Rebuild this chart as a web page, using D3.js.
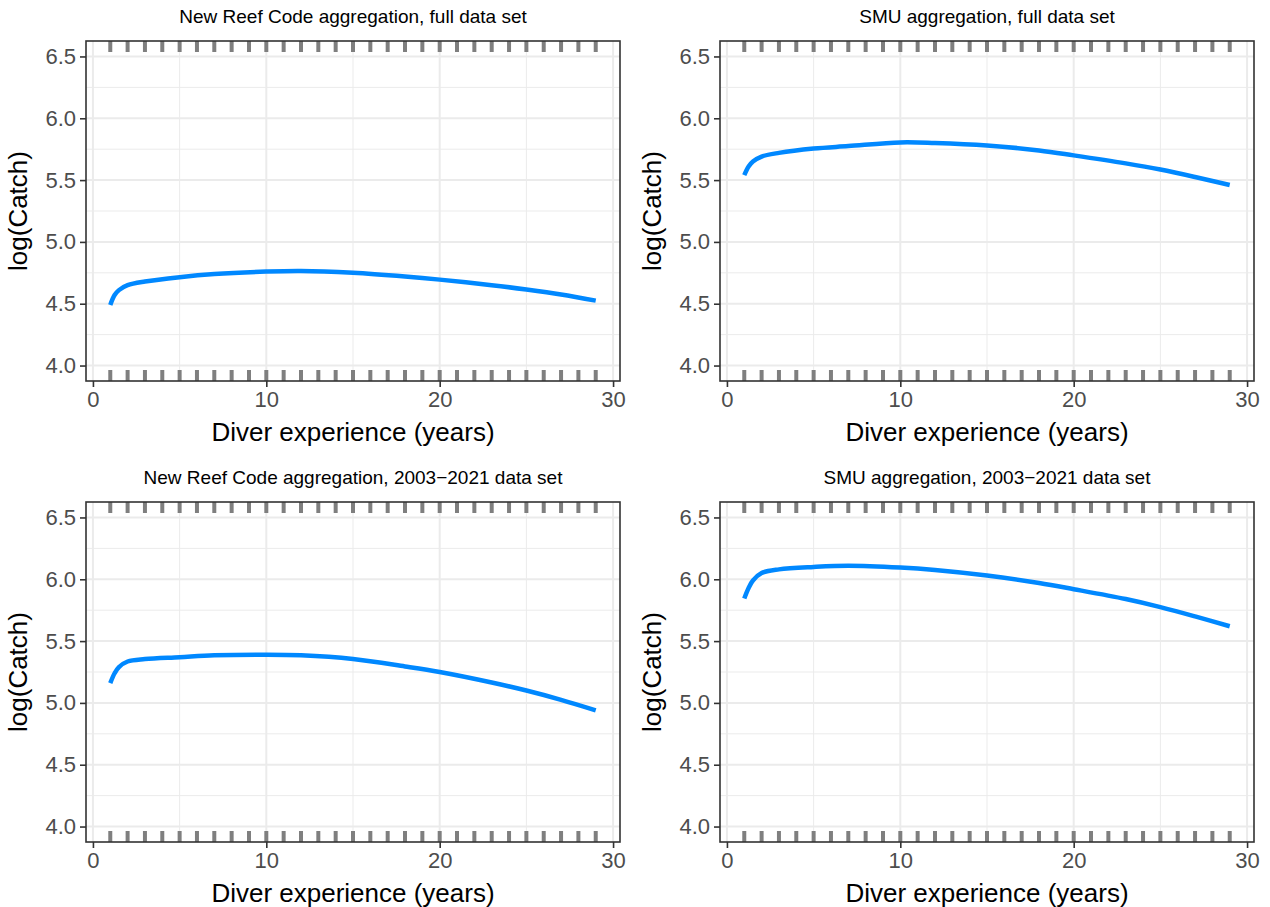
<!DOCTYPE html>
<html>
<head>
<meta charset="utf-8">
<script src="https://cdn.jsdelivr.net/npm/d3@7"></script>
<style>
  body { margin: 0; background: #fff; }
  text { font-family: "Liberation Sans", Arial, Helvetica, sans-serif; }
</style>
</head>
<body>
<div id="chart"></div>
<script>
// dados
const panelTitles = [
  "New Reef Code aggregation, full data set",
  "SMU aggregation, full data set",
  "New Reef Code aggregation, 2003\u22122021 data set",
  "SMU aggregation, 2003\u22122021 data set"
];
const expYears = [1, 1.25, 1.5, 2, 3, 5, 7, 10, 12, 15, 18, 20, 23, 25, 27, 29];
const reefFull = [4.49, 4.57, 4.61, 4.65, 4.68, 4.715, 4.74, 4.76, 4.765, 4.75, 4.72, 4.695, 4.65, 4.615, 4.575, 4.525];
const smuFull  = [5.54, 5.61, 5.65, 5.69, 5.72, 5.755, 5.775, 5.805, 5.80, 5.78, 5.74, 5.70, 5.635, 5.585, 5.525, 5.46];
const reef0321 = [5.16, 5.24, 5.29, 5.335, 5.355, 5.37, 5.385, 5.39, 5.385, 5.355, 5.295, 5.25, 5.165, 5.10, 5.025, 4.94];
const smu0321  = [5.845, 5.93, 5.99, 6.05, 6.08, 6.10, 6.11, 6.095, 6.075, 6.03, 5.97, 5.92, 5.84, 5.775, 5.70, 5.62];
const rugYears = [1, 2, 3, 4, 5, 6, 7, 8, 9, 10, 11, 12, 13, 14, 15, 16, 17, 18, 19, 20, 21, 22, 23, 24, 25, 26, 27, 28, 29];
const xTicks = [0, 10, 20, 30];
const xMinor = [5, 15, 25];
const yTicks = [4.0, 4.5, 5.0, 5.5, 6.0, 6.5];
const yMinor = [4.25, 4.75, 5.25, 5.75, 6.25];

const series = [reefFull, smuFull, reef0321, smu0321];

const W = 1270, H = 907;
const colX = [86, 720];
const rowY = [41, 502];
const pW = 534, pH = 340;

const svg = d3.select("#chart").append("svg")
  .attr("width", W).attr("height", H)
  .attr("viewBox", [0, 0, W, H]);

series.forEach((vals, i) => {
  const x0 = colX[i % 2], y0 = rowY[Math.floor(i / 2)];
  const g = svg.append("g").attr("transform", `translate(${x0},${y0})`);

  const x = d3.scaleLinear().domain([-0.4, 30.4]).range([0, pW]);
  const y = d3.scaleLinear().domain([3.875, 6.625]).range([pH, 0]);

  // grelha menor e maior
  g.selectAll("line.xmin").data(xMinor).join("line")
    .attr("x1", d => x(d)).attr("x2", d => x(d)).attr("y1", 0).attr("y2", pH)
    .attr("stroke", "#ebebeb").attr("stroke-width", 1);
  g.selectAll("line.ymin").data(yMinor).join("line")
    .attr("y1", d => y(d)).attr("y2", d => y(d)).attr("x1", 0).attr("x2", pW)
    .attr("stroke", "#ebebeb").attr("stroke-width", 1);
  g.selectAll("line.xmaj").data(xTicks).join("line")
    .attr("x1", d => x(d)).attr("x2", d => x(d)).attr("y1", 0).attr("y2", pH)
    .attr("stroke", "#ebebeb").attr("stroke-width", 2);
  g.selectAll("line.ymaj").data(yTicks).join("line")
    .attr("y1", d => y(d)).attr("y2", d => y(d)).attr("x1", 0).attr("x2", pW)
    .attr("stroke", "#ebebeb").attr("stroke-width", 2);

  // rug em cima e em baixo
  const rugLen = 11;
  g.selectAll("line.rugt").data(rugYears).join("line")
    .attr("x1", d => x(d)).attr("x2", d => x(d)).attr("y1", 0).attr("y2", rugLen)
    .attr("stroke", "#7f7f7f").attr("stroke-width", 4);
  g.selectAll("line.rugb").data(rugYears).join("line")
    .attr("x1", d => x(d)).attr("x2", d => x(d)).attr("y1", pH - rugLen).attr("y2", pH)
    .attr("stroke", "#7f7f7f").attr("stroke-width", 4);

  // curva
  const pts = expYears.map((e, k) => [e, vals[k]]);
  g.append("path").datum(pts)
    .attr("fill", "none").attr("stroke", "#0088ff").attr("stroke-width", 4.5)
    .attr("d", d3.line().x(d => x(d[0])).y(d => y(d[1])).curve(d3.curveCatmullRom.alpha(0.5)));

  // borda
  g.append("rect").attr("x", 0).attr("y", 0).attr("width", pW).attr("height", pH)
    .attr("fill", "none").attr("stroke", "#333333").attr("stroke-width", 1.6);

  // eixos
  const ax = g.append("g").attr("transform", `translate(0,${pH})`)
    .call(d3.axisBottom(x).tickValues(xTicks).tickSize(6).tickPadding(4).tickFormat(d3.format("d")));
  const ay = g.append("g")
    .call(d3.axisLeft(y).tickValues(yTicks).tickSize(6).tickPadding(4).tickFormat(d3.format(".1f")));
  [ax, ay].forEach(a => {
    a.select(".domain").remove();
    a.selectAll(".tick line").attr("stroke", "#333333").attr("stroke-width", 1.6);
    a.selectAll(".tick text").attr("fill", "#4d4d4d").style("font-size", "22px")
      .style("font-family", "'Liberation Sans', Arial, sans-serif");
  });

  g.append("text").attr("x", pW / 2).attr("y", -18).attr("text-anchor", "middle")
    .style("font-size", "19px").attr("fill", "#000").text(panelTitles[i]);
  g.append("text").attr("x", pW / 2).attr("y", pH + 60).attr("text-anchor", "middle")
    .style("font-size", "26px").attr("fill", "#000").text("Diver experience (years)");
  g.append("text").attr("transform", `translate(${-59},${pH / 2}) rotate(-90)`)
    .attr("text-anchor", "middle")
    .style("font-size", "26px").attr("fill", "#000").text("log(Catch)");
});
</script>
</body>
</html>
